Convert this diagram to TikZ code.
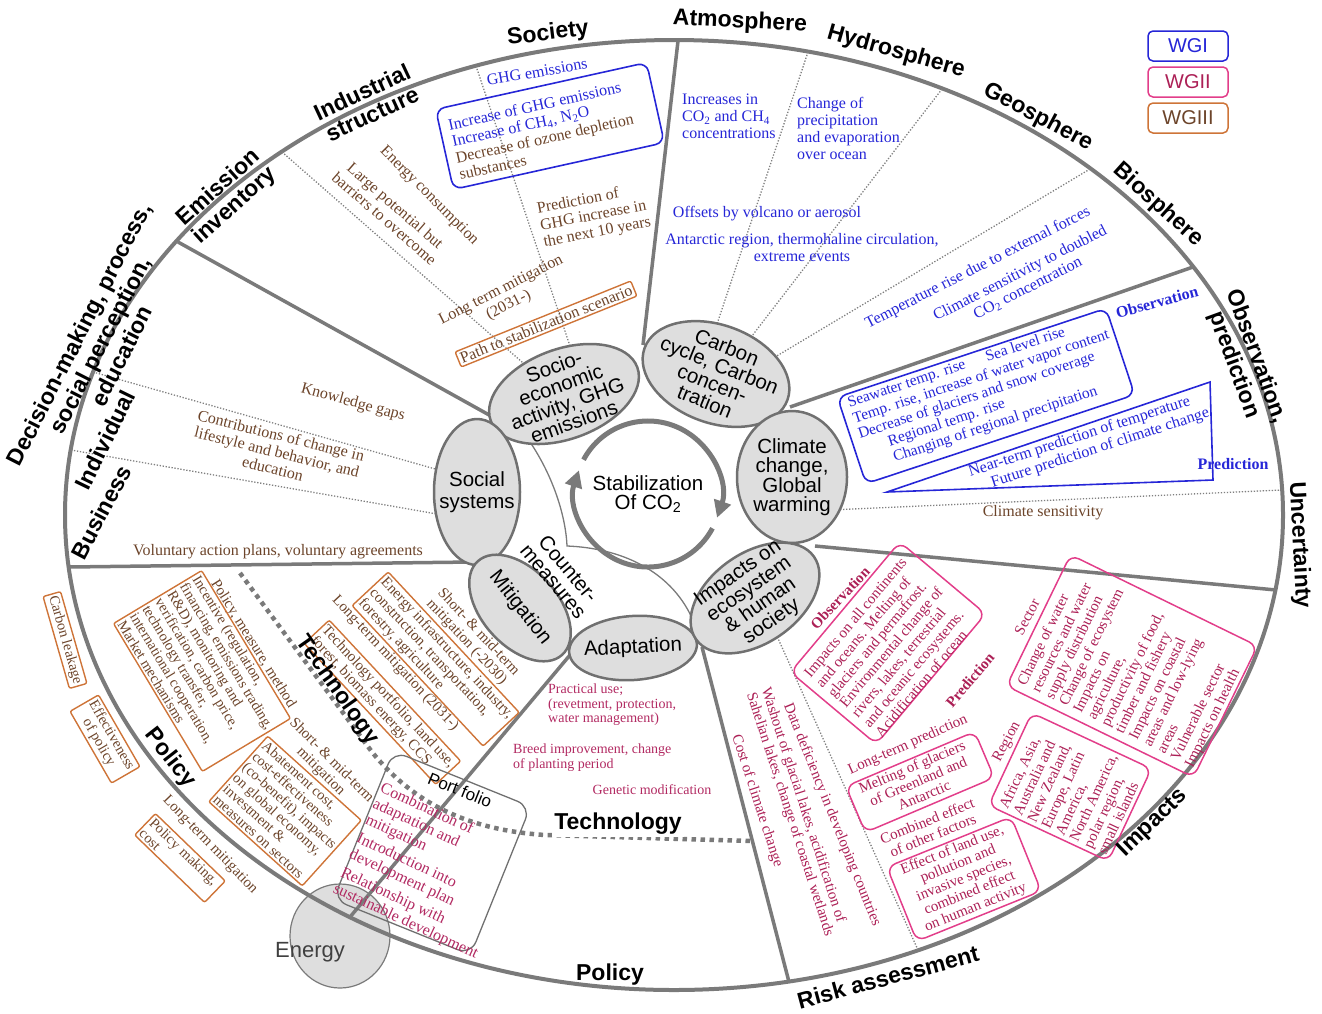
\documentclass[tikz,border=0pt]{standalone}
\usepackage{fontspec}
\setmainfont{Liberation Serif}
\setsansfont{Liberation Sans}
\usetikzlibrary{shapes.geometric,arrows.meta}
\definecolor{rimgray}{RGB}{122,122,122}
\definecolor{hubfill}{RGB}{222,222,222}
\definecolor{hubline}{RGB}{112,112,112}
\definecolor{wgone}{RGB}{38,38,215}
\definecolor{wgtwo}{RGB}{172,32,86}
\definecolor{wgtwobox}{RGB}{226,62,138}
\definecolor{wgthree}{RGB}{108,68,42}
\definecolor{wgthreebox}{RGB}{206,116,56}
\definecolor{adaptred}{RGB}{178,42,98}
\newcommand\rimfont{\sffamily\bfseries\fontsize{23}{24}\selectfont}
\newcommand\hubfont{\sffamily\fontsize{20.5}{19.5}\selectfont}
\newcommand\notefont{\fontsize{16}{17}\selectfont}
\newcommand\boxfont{\fontsize{15}{15.5}\selectfont}
\newcommand\mitfont{\fontsize{15}{15.3}\selectfont}
\newcommand\policyfont{\fontsize{14.5}{14.6}\selectfont}
\newcommand\adaptfont{\fontsize{14}{14.5}\selectfont}
\tikzset{>=Latex,
  rim/.style={draw=rimgray, line width=4pt},
  spoke/.style={draw=rimgray, line width=3.5pt},
  guide/.style={draw=gray, line width=1.3pt, dash pattern=on 1.3pt off 1.7pt},
  techline/.style={draw=rimgray, line width=4.5pt, dash pattern=on 4.5pt off 4.5pt},
  hubshape/.style={ellipse, draw=hubline, line width=2.5pt, fill=hubfill, inner sep=0pt},
  hubtext/.style={font=\hubfont, align=center, inner sep=0pt},
  rimlabel/.style={font=\rimfont, align=center, inner sep=0pt},
  onenote/.style={text=wgone, font=\notefont, inner sep=0pt},
  twonote/.style={text=wgtwo, font=\boxfont, inner sep=0pt},
  threenote/.style={text=wgthree, font=\notefont, inner sep=0pt},
  adaptnote/.style={text=adaptred, font=\adaptfont, inner sep=0pt},
  onebox/.style={draw=wgone, line width=1.6pt, rounded corners=9pt, inner sep=0pt},
  twobox/.style={draw=wgtwobox, line width=1.5pt, rounded corners=9pt, inner sep=0pt},
  threebox/.style={draw=wgthreebox, line width=1.4pt, rounded corners=2pt, inner sep=2.5pt},
  legendbox/.style={rounded corners=5pt, line width=1.5pt, minimum width=80pt, minimum height=30pt, inner sep=0pt, font=\sffamily\fontsize{20}{20}\selectfont}
}
\begin{document}
\begin{tikzpicture}[x=1pt, y=-1pt]
\useasboundingbox (0,0) rectangle (1322,1013);
\node[ellipse, draw=rimgray, line width=1.2pt, fill=hubfill, minimum width=100pt, minimum height=104pt, inner sep=0pt] (energy) at (340,936) {};
\draw[rim] (674,515) ellipse [x radius=609, y radius=475];

\coordinate (jsocial) at (500,421);
\coordinate (jtop) at (643,345);
\coordinate (jcarbon) at (790,407);
\coordinate (jclimate) at (815,546);
\coordinate (jimpact) at (702,647);
\coordinate (jadapt) at (570,655);
\coordinate (jmitig) at (472,562);
\coordinate (rimemission) at (178,242);
\coordinate (rimsociety) at (678,41);
\coordinate (rimbio) at (1193,267);
\coordinate (rimuncert) at (1276,590);
\coordinate (rimrisk) at (789,982);
\coordinate (rimpolicy) at (350,917);
\coordinate (rimbusiness) at (69,567);
\draw[spoke] (jsocial) -- (rimemission);
\draw[spoke] (jtop) -- (rimsociety);
\draw[spoke] (jcarbon) -- (rimbio);
\draw[spoke] (jclimate) -- (rimuncert);
\draw[spoke] (jimpact) -- (rimrisk);
\draw[spoke] (jadapt) -- (rimpolicy);
\draw[spoke] (jmitig) -- (rimbusiness);

\coordinate (gindustry) at (282,152);
\coordinate (gindustryend) at (530,369);
\coordinate (gsociety) at (476,66);
\coordinate (gsocietyend) at (572,352);
\coordinate (gatmos) at (808,52);
\coordinate (gatmosend) at (711,342);
\coordinate (ghydro) at (942,89);
\coordinate (ghydroend) at (745,345);
\coordinate (ggeo) at (1090,169);
\coordinate (ggeoend) at (770,360);
\coordinate (guncert) at (1282,490);
\coordinate (guncertend) at (830,510);
\coordinate (gindividual) at (93,372);
\coordinate (gindividualend) at (460,476);
\coordinate (gbusiness) at (71,450);
\coordinate (gbusinessend) at (460,518);
\coordinate (grisk) at (918,950);
\coordinate (griskend) at (772,625);
\draw[guide] (gindustry) -- (gindustryend);
\draw[guide] (gsociety) -- (gsocietyend);
\draw[guide] (gatmos) -- (gatmosend);
\draw[guide] (ghydro) -- (ghydroend);
\draw[guide] (ggeo) -- (ggeoend);
\draw[guide] (guncert) -- (guncertend);
\draw[guide] (gindividual) -- (gindividualend);
\draw[guide] (gbusiness) -- (gbusinessend);
\draw[guide] (grisk) -- (griskend);

\coordinate (techstart) at (240,573);
\coordinate (techend) at (752,841);
\draw[techline] (techstart) -- (372,752) .. controls (415,805) and (470,830) .. (545,835) -- (techend);

\coordinate (cmtop) at (523,432);
\coordinate (cmcorner) at (567,546);
\coordinate (cmend) at (692,618);
\draw[draw=rimgray, line width=1.3pt] (cmtop) .. controls (555,475) and (566,520) .. (cmcorner) .. controls (620,548) and (670,570) .. (cmend);

\node[hubshape, minimum width=156pt, minimum height=90pt, rotate=20] (socio) at (564,394) {};
\node[hubtext, rotate=20] (sociotext) at (socio) {Socio-\\economic\\activity, GHG\\emissions};
\node[hubshape, minimum width=152pt, minimum height=98pt, rotate=-20] (carbon) at (716,374) {};
\node[hubtext, rotate=-22] (carbontext) at (carbon) {Carbon\\cycle, Carbon\\concen-\\tration};
\node[hubshape, minimum width=110pt, minimum height=132pt] (climate) at (792,477) {};
\node[hubtext] (climatetext) at (climate) {Climate\\change,\\Global\\warming};
\node[hubshape, minimum width=86pt, minimum height=146pt] (social) at (477,492) {};
\node[hubtext] (socialtext) at (social) {Social\\[3pt]systems};
\node[hubshape, minimum width=126pt, minimum height=76pt, rotate=-48] (mitig) at (520,608) {};
\node[hubtext, rotate=-52] (mitigtext) at (mitig) {Mitigation};
\node[hubshape, minimum width=128pt, minimum height=64pt, rotate=4] (adapt) at (633,648) {};
\node[hubtext, rotate=3] (adapttext) at (adapt) {Adaptation};
\node[hubshape, minimum width=144pt, minimum height=90pt, rotate=35] (impact) at (755,598) {};
\node[hubtext, rotate=35] (impacttext) at (impact) {Impacts on\\ecosystem\\\& human\\society};
\node[hubtext, rotate=-50] (counter) at (561,575) {Counter-\\measures};

\coordinate (stab) at (648,494);
\draw[line width=5pt, draw=rimgray, -{Triangle[length=17pt, width=17pt]}] (stab) ++(208:73) arc[start angle=208, end angle=379, radius=73];
\draw[line width=5pt, draw=rimgray, -{Triangle[length=17pt, width=17pt]}] (stab) ++(28:73) arc[start angle=28, end angle=199, radius=73];
\node[hubtext] (stabtext) at (stab) {Stabilization\\Of CO\textsubscript{2}};

\node[legendbox, draw=wgone, text=wgone] (legwgone) at (1188,46) {WGI};
\node[legendbox, draw=wgtwobox, text=wgtwo] (legwgtwo) at (1188,82) {WGII};
\node[legendbox, draw=wgthreebox, text=wgthree] (legwgthree) at (1188,118) {WGIII};

\node[threenote, rotate=-45] (energycons) at (429,196) {Energy consumption};
\node[threenote, rotate=-41, align=center] (largepot) at (390,212) {Large potential but\\barriers to overcome};
\node[threenote, rotate=27, align=center] (longterm) at (505,298) {Long term mitigation\\(2031-)};
\node[threenote, threebox, rotate=22] (pathstab) at (546,324) {Path to stabilization scenario};
\node[threenote, rotate=11, align=left] (predghg) at (594,216) {Prediction of\\GHG increase in\\the next 10 years};

\node[onenote, rotate=10] (ghgemis) at (537,72) {GHG emissions};
\node[onebox, rotate=12.5, minimum width=216pt, minimum height=82pt] (ghgbox) at (550,126) {};
\node[onenote, rotate=12.5, anchor=north west, align=left] (ghgtext) at (447,119) {Increase of GHG emissions\\Increase of CH\textsubscript{4}, N\textsubscript{2}O\\\textcolor{wgthree}{Decrease of ozone depletion}\\\textcolor{wgthree}{substances}};

\node[onenote, align=left, anchor=north west] (co2inc) at (682,94) {Increases in\\CO\textsubscript{2} and CH\textsubscript{4}\\concentrations};
\node[onenote, align=left, anchor=north west] (precip) at (797,97) {Change of\\precipitation\\and evaporation\\over ocean};
\node[onenote] (offsets) at (767,214) {Offsets by volcano or aerosol};
\node[onenote, align=center] (antarctic) at (802,248) {Antarctic region, thermohaline circulation,\\extreme events};

\node[onenote, rotate=27] (temprise) at (978,268) {Temperature rise due to external forces};
\node[onenote, rotate=27, align=center] (climsens) at (1024,281) {Climate sensitivity to doubled\\CO\textsubscript{2} concentration};

\node[onebox, rotate=18.3, minimum width=283pt, minimum height=91pt] (obsbox) at (986,396) {};
\node[onenote, font=\fontsize{15.5}{16.5}\selectfont, rotate=18.3, anchor=north west, align=left] (obstext) at (846,397) {Seawater temp. rise\hspace{22pt}Sea level rise\\Temp. rise, increase of water vapor content\\Decrease of glaciers and snow coverage\\\hspace*{26pt}Regional temp. rise\\\hspace*{26pt}Changing of regional precipitation};
\node[onenote, font=\notefont\bfseries, rotate=15] (obslabel) at (1157,302) {Observation};
\coordinate (tri1) at (887,492);
\coordinate (tri2) at (1210,382);
\coordinate (tri3) at (1213,480);
\draw[draw=wgone, line width=1.6pt] (tri1) -- (tri2) -- (tri3) -- cycle;
\node[onenote, rotate=18, align=left] (predtext) at (1089,443) {Near-term prediction of temperature\\\hspace*{18pt}Future prediction of climate change};
\node[onenote, font=\notefont\bfseries] (predlabel) at (1233,464) {Prediction};
\node[threenote] (climsensnote) at (1043,513) {Climate sensitivity};

\node[twobox, rotate=50, minimum width=170pt, minimum height=112pt] (impobsbox) at (888,643) {};
\node[twonote, rotate=50, align=left] (impobstext) at (891,647) {Impacts on all continents\\and oceans. Melting of\\glaciers and permafrost.\\Environmental change of\\rivers, lakes, terrestrial\\and oceanic ecosystems.\\Acidification of ocean};
\node[twonote, font=\boxfont\bfseries, rotate=47] (impobslabel) at (840,598) {Observation};
\node[twonote, font=\boxfont\bfseries, rotate=50] (imppredlabel) at (970,680) {Prediction};
\node[twonote, rotate=24] (longpred) at (908,745) {Long-term prediction};
\node[twobox, rotate=23, minimum width=140pt, minimum height=50pt] (meltbox) at (920,782) {};
\node[twonote, rotate=23, align=center] (melttext) at (918,781) {Melting of glaciers\\of Greenland and\\Antarctic};
\node[twonote, rotate=22, align=center] (combined) at (930,828) {Combined effect\\of other factors};
\node[twobox, rotate=22, minimum width=134pt, minimum height=80pt] (landbox) at (964,879) {};
\node[twonote, rotate=22, align=center] (landtext) at (964,879) {Effect of land use,\\pollution and\\invasive species,\\combined effect\\on human activity};
\node[twonote, rotate=62] (sectorlabel) at (1027,617) {Sector};
\node[twobox, rotate=64, minimum width=146pt, minimum height=208pt] (sectorbox) at (1132,666) {};
\node[twonote, rotate=64, align=left] (sectortext) at (1134,668) {Change of water\\resources and water\\supply distribution\\Change of ecosystem\\Impacts on\\agriculture,\\productivity of food,\\timber and fishery\\Impacts on coastal\\areas and low-lying\\areas\\Vulnerable sector\\Impacts on health};
\node[twonote, rotate=62] (regionlabel) at (1007,742) {Region};
\node[twobox, rotate=65, minimum width=102pt, minimum height=132pt] (regionbox) at (1070,787) {};
\node[twonote, rotate=65, align=left] (regiontext) at (1072,788) {Africa, Asia,\\Australia and\\New Zealand,\\Europe, Latin\\America,\\North America,\\polar region,\\small islands};
\node[twonote, rotate=-68] (datadef) at (832,815) {Data deficiency in developing countries};
\node[twonote, rotate=-72, align=left] (washout) at (797,812) {Washout of glacial lakes, acidification of\\Sahelian lakes, change of coastal wetlands};
\node[twonote, rotate=-72] (costclim) at (757,801) {Cost of climate change};

\node[adaptnote, anchor=north west, align=left] (practical) at (548,684) {Practical use;\\(revetment, protection,\\water management)};
\node[adaptnote, anchor=north west, align=left] (breed) at (513,744) {Breed improvement, change\\of planting period};
\node[adaptnote] (genetic) at (652,790) {Genetic modification};

\begin{scope}[shift={(383,580)}, rotate=-47, transform shape]
\node[threenote, font=\mitfont, anchor=north west, align=left] (shortmid) at (47,-41) {Short- \& mid-term\\mitigation (-2030)};
\node[threenote, threebox, font=\mitfont, anchor=north west, align=left] (infra) at (-3,-10) {Energy infrastructure, industry,\\construction, transportation,\\forestry, agriculture};
\node[threenote, font=\mitfont, anchor=north west] (longmit) at (-20,41) {Long-term mitigation (2031-)};
\node[threenote, threebox, font=\mitfont, anchor=north west, align=left] (techport) at (-8,66) {Technology portfolio, land use,\\forest, biomass energy, CCS};
\end{scope}

\node[threenote, font=\mitfont, rotate=-58] (policymeasure) at (253,644) {Policy, measure, method};
\node[threenote, threebox, font=\policyfont, rotate=-59, align=left] (incentive) at (202,671) {Incentive (regulation,\\financing, emissions trading,\\R\&D), monitoring and\\verification, carbon price,\\technology transfer,\\international cooperation,\\Market mechanisms};
\node[threenote, font=\mitfont, rotate=-45, align=center] (shortpolicy) at (326,766) {Short- \& mid-term\\mitigation};
\node[threenote, threebox, font=\policyfont, rotate=-42, align=left] (abatement) at (285,811) {Abatement cost,\\cost-effectiveness\\(co-benefit), impacts\\on global economy,\\investment \&\\measures on sectors};
\node[threenote, font=\mitfont, rotate=-46] (longpolicy) at (210,845) {Long-term mitigation};
\node[threenote, threebox, font=\policyfont, rotate=-44, text width=92pt, align=left] (policymaking) at (180,858) {Policy making,\\cost};
\node[threenote, threebox, font=\policyfont, rotate=-74] (leakage) at (65,640) {Carbon leakage};
\node[threenote, threebox, font=\policyfont, rotate=-60, align=center] (effective) at (105,739) {Effectiveness\\of policy};

\node[threenote, rotate=-15] (knowgaps) at (353,403) {Knowledge gaps};
\node[threenote, rotate=-14, align=center] (contrib) at (277,452) {Contributions of change in\\lifestyle and behavior, and\\education};
\node[threenote] (voluntary) at (278,552) {Voluntary action plans, voluntary agreements};

\node[draw=hubline, line width=1.3pt, rounded corners=14pt, rotate=-22, minimum width=148pt, minimum height=160pt] (portbox) at (432,853) {};
\node[font=\sffamily\fontsize{17}{17}\selectfont, rotate=-22] (portlabel) at (460,790) {Port folio};
\node[adaptnote, font=\fontsize{16}{17.5}\selectfont, rotate=-25, anchor=north west, align=left] (porttext) at (384,781) {Combination of\\adaptation and\\mitigation\\[3pt]Introduction into\\development plan\\[3pt]Relationship with\\sustainable development};
\node[font=\sffamily\fontsize{22}{22}\selectfont, text=darkgray] (energytext) at (310,952) {Energy};

\node[rimlabel, rotate=7] (lsociety) at (548,34) {Society};
\node[rimlabel, rotate=-3] (latmos) at (740,22) {Atmosphere};
\node[rimlabel, rotate=-16] (lhydro) at (896,52) {Hydrosphere};
\node[rimlabel, rotate=-28] (lgeo) at (1038,117) {Geosphere};
\node[rimlabel, rotate=-42] (lbio) at (1158,205) {Biosphere};
\node[rimlabel, rotate=-70] (lobs) at (1245,361) {Observation,\\prediction};
\node[rimlabel, rotate=-87] (luncert) at (1299,545) {Uncertainty};
\node[rimlabel, rotate=44] (limpacts) at (1153,823) {Impacts};
\node[rimlabel, rotate=15] (lrisk) at (888,977) {Risk assessment};
\node[rimlabel] (lpolicy) at (610,975) {Policy};
\node[rimlabel, fill=white, inner sep=2pt] (ltech) at (618,824) {Technology};
\node[rimlabel, rotate=-52] (lpolicyin) at (170,758) {Policy};
\node[rimlabel, rotate=-55] (ltechin) at (337,690) {Technology};
\node[rimlabel, rotate=63] (ldecision) at (100,345) {Decision-making, process,\\social perception,\\education};
\node[rimlabel, rotate=64] (lindividual) at (105,440) {Individual};
\node[rimlabel, rotate=62] (lbusiness) at (101,512) {Business};
\node[rimlabel, rotate=42] (lemission) at (227,197) {Emission\\inventory};
\node[rimlabel, rotate=25] (lindustrial) at (367,103) {Industrial\\structure};
\end{tikzpicture}
\end{document}
